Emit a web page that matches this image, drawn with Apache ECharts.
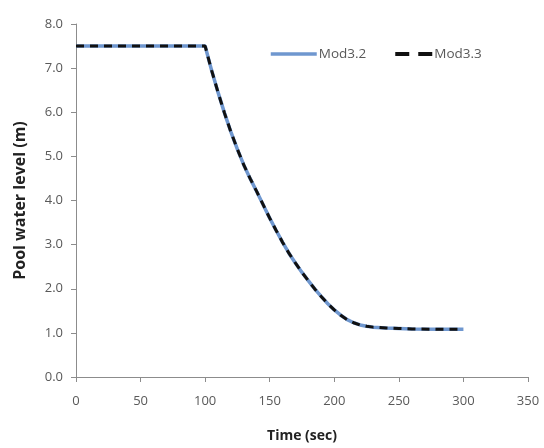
<!DOCTYPE html>
<html>
<head>
<meta charset="utf-8">
<script src="https://cdn.jsdelivr.net/npm/echarts@6/dist/echarts.min.js"></script>
<style>
  html, body { margin: 0; padding: 0; background: #fff; }
  #chart { width: 544px; height: 448px; }
</style>
</head>
<body>
<div id="chart"></div>
<script>
// Pool water level during drain-down, two model versions
const timeSec = [0, 50, 100, 105, 110, 115, 120, 125, 130, 135, 140, 145, 150, 155, 160, 165, 170, 175, 180, 185, 190, 195, 200, 205, 210, 215, 220, 225, 230, 240, 250, 260, 280, 300];
const mod32 = [7.5, 7.5, 7.5, 6.95, 6.45, 5.98, 5.55, 5.16, 4.8, 4.49, 4.2, 3.9, 3.6, 3.32, 3.05, 2.8, 2.58, 2.37, 2.18, 1.99, 1.82, 1.66, 1.52, 1.4, 1.3, 1.23, 1.18, 1.15, 1.13, 1.11, 1.1, 1.09, 1.08, 1.08];
const mod33 = [7.5, 7.5, 7.5, 6.95, 6.45, 5.98, 5.55, 5.16, 4.8, 4.49, 4.2, 3.9, 3.6, 3.32, 3.05, 2.8, 2.58, 2.37, 2.18, 1.99, 1.82, 1.66, 1.52, 1.4, 1.3, 1.23, 1.18, 1.15, 1.13, 1.11, 1.1, 1.09, 1.08, 1.08];
const seriesNames = ['Mod3.2', 'Mod3.3'];

const pairs = (xs, ys) => xs.map((x, i) => [x, ys[i]]);
const FONT = '"Open Sans", Lato, sans-serif';
const BLUE = '#6f97cf';
const BLACK = '#111111';

const chart = echarts.init(document.getElementById('chart'), null, { renderer: 'canvas' });
chart.setOption({
  animation: false,
  backgroundColor: '#ffffff',
  textStyle: { fontFamily: FONT },
  grid: { left: 76, right: 16, top: 24, bottom: 70, containLabel: false },
  legend: {
    left: 264, top: 42,
    itemWidth: 46, itemHeight: 14, itemGap: 18,
    itemStyle: { opacity: 0 },
    textStyle: { color: '#595959', fontSize: 13.5, fontFamily: FONT, padding: [0, 0, 0, -3] },
    data: [
      { name: seriesNames[0], lineStyle: { color: BLUE, width: 3.5, type: 'solid' } },
      { name: seriesNames[1], lineStyle: { color: BLACK, width: 4, type: [14, 9], dashOffset: -9 } }
    ]
  },
  xAxis: {
    type: 'value', min: 0, max: 350, interval: 50,
    name: 'Time (sec)', nameLocation: 'middle', nameGap: 52,
    nameTextStyle: { color: '#222', fontSize: 14, fontWeight: 'bold', fontFamily: FONT },
    axisLine: { lineStyle: { color: '#8c8c8c', width: 1 } },
    axisTick: { show: true, inside: false, length: 5, lineStyle: { color: '#8c8c8c' } },
    axisLabel: { color: '#595959', fontSize: 13, margin: 18 },
    splitLine: { show: false }
  },
  yAxis: {
    type: 'value', min: 0, max: 8, interval: 1,
    name: 'Pool water level (m)', nameLocation: 'middle', nameGap: 48, nameRotate: 90,
    nameTextStyle: { color: '#222', fontSize: 16, fontWeight: 'bold', fontFamily: FONT },
    axisLine: { show: true, lineStyle: { color: '#8c8c8c', width: 1 } },
    axisTick: { show: true, inside: false, length: 5, lineStyle: { color: '#8c8c8c' } },
    axisLabel: { color: '#595959', fontSize: 13, margin: 13, formatter: v => v.toFixed(1) },
    splitLine: { show: false }
  },
  series: [
    {
      name: seriesNames[0], type: 'line', data: pairs(timeSec, mod32),
      smooth: false, showSymbol: false, symbol: 'none',
      lineStyle: { color: BLUE, width: 3.5 },
      itemStyle: { color: BLUE }
    },
    {
      name: seriesNames[1], type: 'line', data: pairs(timeSec, mod33),
      smooth: false, showSymbol: false, symbol: 'none',
      lineStyle: { color: BLACK, width: 3, type: [8, 6] },
      itemStyle: { color: BLACK }
    }
  ]
});
</script>
</body>
</html>
